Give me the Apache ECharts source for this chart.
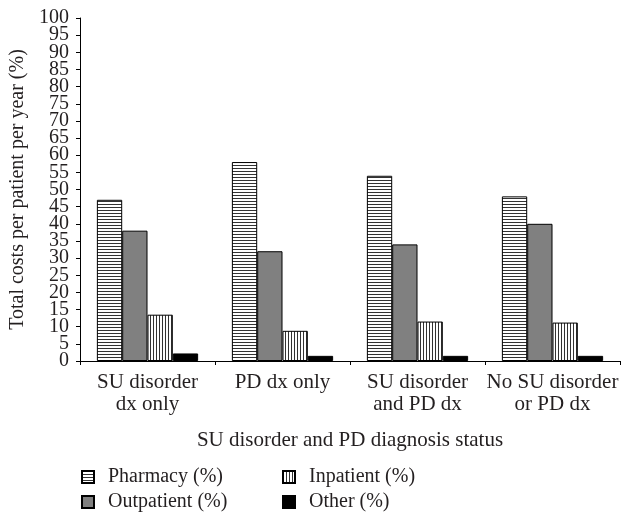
<!DOCTYPE html>
<html>
<head>
<meta charset="utf-8">
<script src="https://cdn.jsdelivr.net/npm/echarts@6/dist/echarts.min.js"></script>
<style>
html,body{margin:0;padding:0;background:#fff;}
#c{width:622px;height:517px;}
</style>
</head>
<body>
<div id="c"></div>
<script>
const categories = ['SU disorder\ndx only', 'PD dx only', 'SU disorder\nand PD dx', 'No SU disorder\nor PD dx'];
const pharmacy = [47, 58, 54, 48];
const outpatient = [38, 32, 34, 40];
const inpatient = [13.5, 8.8, 11.5, 11.2];
const other = [2.2, 1.5, 1.5, 1.5];
const seriesNames = ['Pharmacy (%)', 'Outpatient (%)', 'Inpatient (%)', 'Other (%)'];

function makePattern(dir) {
  const c = document.createElement('canvas');
  c.width = 3; c.height = 3;
  const ctx = c.getContext('2d');
  ctx.fillStyle = '#fff';
  ctx.fillRect(0, 0, 3, 3);
  ctx.fillStyle = '#333';
  if (dir === 'h') ctx.fillRect(0, 0, 3, 1);
  else ctx.fillRect(0, 0, 1, 3);
  return { image: c, repeat: 'repeat' };
}
const hPat = makePattern('h');
const vPat = makePattern('v');

const font = 'Liberation Serif';
const txt = '#231f20';
const chart = echarts.init(document.getElementById('c'));
const fills = [hPat, '#808080', vPat, '#000'];
const data = [pharmacy, outpatient, inpatient, other];

function legendAt(i, left, top) {
  return {
    data: [seriesNames[i]], left: left, top: top, orient: 'horizontal',
    padding: 0,
    itemWidth: 12, itemHeight: 12, itemGap: 10,
    icon: 'rect',
    textStyle: { fontFamily: font, fontSize: 20, color: txt, padding: [0, 0, 0, 9] },
    selectedMode: false
  };
}

const yLabel = { fontFamily: font, fontSize: 20, color: txt, margin: 11, hideOverlap: false };

chart.setOption({
  animation: false,
  backgroundColor: '#fff',
  textStyle: { fontFamily: font },
  grid: { left: 80, right: 2, top: 18, bottom: 156 },
  legend: [
    legendAt(0, 81, 467),
    legendAt(2, 282, 467),
    legendAt(1, 81, 492),
    legendAt(3, 282, 492)
  ],
  xAxis: {
    type: 'category', data: categories,
    name: 'SU disorder and PD diagnosis status',
    nameLocation: 'middle', nameGap: 69,
    nameTextStyle: { fontFamily: font, fontSize: 21, color: txt },
    axisLine: { lineStyle: { color: '#000', width: 1 } },
    axisTick: { show: true, interval: 0, length: 4, lineStyle: { color: '#000' } },
    axisLabel: { interval: 0, fontFamily: font, fontSize: 21, color: txt, lineHeight: 22, margin: 10 }
  },
  yAxis: [{
    type: 'value', min: 0, max: 100, interval: 5,
    name: 'Total costs per patient per year (%)',
    nameLocation: 'middle', nameGap: 52,
    nameTextStyle: { fontFamily: font, fontSize: 20, color: txt },
    axisLine: { show: true, lineStyle: { color: '#000', width: 1 } },
    axisTick: { show: true, length: 4, lineStyle: { color: '#000' } },
    axisLabel: Object.assign({ showMinLabel: false, showMaxLabel: false }, yLabel),
    splitLine: { show: false }
  }, {
    type: 'value', min: 0, max: 100, interval: 100, position: 'left',
    axisLine: { show: false }, axisTick: { show: true, length: 4, lineStyle: { color: '#000' } },
    axisLabel: Object.assign({ showMinLabel: true, showMaxLabel: true }, yLabel),
    splitLine: { show: false }
  }],
  series: data.map((d, i) => ({
    name: seriesNames[i], type: 'bar', data: d, yAxisIndex: 0,
    barGap: '0%', barCategoryGap: '25%',
    itemStyle: { color: fills[i], borderColor: '#000', borderWidth: 1 }
  }))
});
</script>
</body>
</html>
